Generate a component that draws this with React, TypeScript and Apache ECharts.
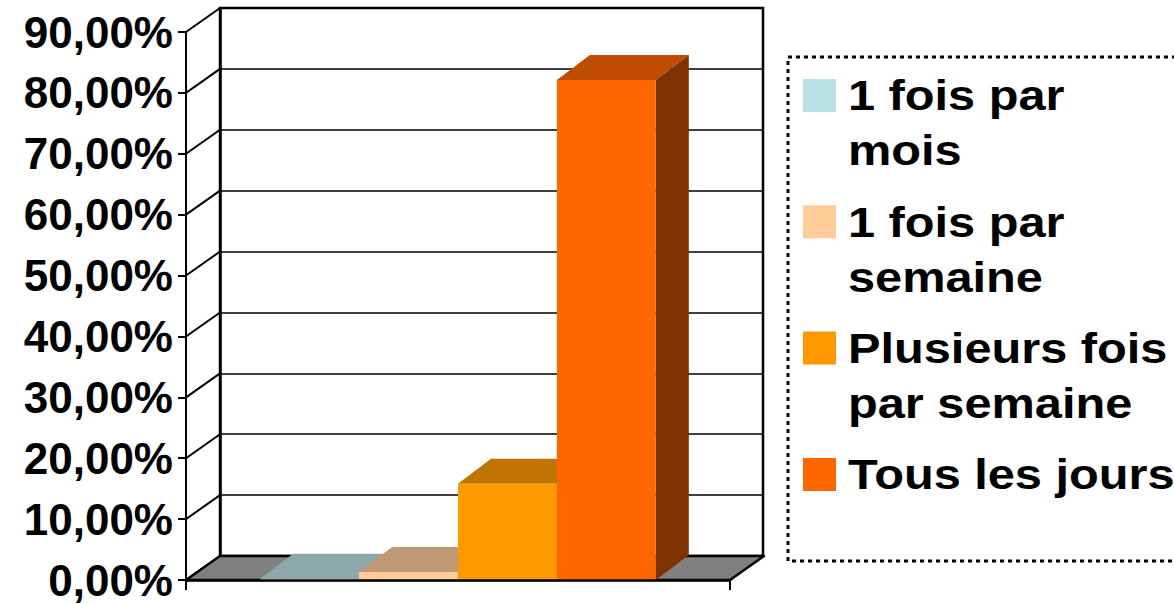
import React, { useEffect, useRef } from "react";
import * as echarts from "echarts";

// ---- data ----
const categories = ["1 fois par mois", "1 fois par semaine", "Plusieurs fois par semaine", "Tous les jours"];
const legendLines = [["1 fois par", "mois"], ["1 fois par", "semaine"], ["Plusieurs fois", "par semaine"], ["Tous les jours"]];
const values = [0.002, 0.013, 0.158, 0.821];
const yTicks = [0, 0.1, 0.2, 0.3, 0.4, 0.5, 0.6, 0.7, 0.8, 0.9];
const frontColors = ["#BBE0E3", "#FFCC99", "#FF9900", "#FF6600"];
const topColors = ["#8DA8AA", "#BF9973", "#BF7300", "#BF4C00"];
const sideColors = ["#5E7072", "#80664D", "#804D00", "#803300"];

// ---- layout/style constants ----
const FONT = "'Liberation Sans', Arial, Helvetica, sans-serif";
const X_MAX = 5.5;
const GAP = 0.75;
const WDX = 34, WDY = -24; // wall depth offset
const BDX = 33, BDY = -25; // bar depth offset

const fmt = (v: number) => (v * 100).toFixed(2).replace(".", ",") + "%";

export default function App() {
  const ref = useRef<HTMLDivElement>(null);
  useEffect(() => {
    if (!ref.current) return;
    const chart = echarts.init(ref.current, undefined, { renderer: "svg" });

    const wallSeries: any = {
      type: "custom",
      xAxisIndex: 0,
      yAxisIndex: 0,
      silent: true,
      z: 3,
      data: yTicks.map((v) => [0, v]),
      renderItem: (params: any, api: any) => {
        const p = api.coord([0, api.value(1)]);
        return {
          type: "line",
          shape: { x1: p[0], y1: p[1], x2: p[0] + WDX, y2: p[1] + WDY },
          style: { stroke: "#000", lineWidth: 2 },
        };
      },
    };

    const floorSeries: any = {
      type: "custom",
      xAxisIndex: 0,
      yAxisIndex: 0,
      silent: true,
      z: 3,
      data: [[0, 0]],
      renderItem: (params: any, api: any) => {
        const a = api.coord([0, 0]);
        const b = api.coord([X_MAX, 0]);
        return {
          type: "polygon",
          shape: {
            points: [
              [a[0], a[1]],
              [b[0], b[1]],
              [b[0] + WDX, b[1] + WDY],
              [a[0] + WDX, a[1] + WDY],
            ],
          },
          style: { fill: "#808080", stroke: "#000", lineWidth: 2.5, lineJoin: "round" },
        };
      },
    };

    const barSeries: any[] = categories.map((name, idx) => ({
      type: "custom",
      name,
      xAxisIndex: 0,
      yAxisIndex: 0,
      z: 4,
      data: [[idx, values[idx]]],
      renderItem: (params: any, api: any) => {
        const i = api.value(0);
        const v = api.value(1);
        const p0 = api.coord([i + GAP, 0]);
        const p1 = api.coord([i + GAP + 1, v]);
        const xL = p0[0], xR = p1[0], yB = p0[1], yT = p1[1];
        return {
          type: "group",
          children: [
            {
              type: "polygon",
              shape: { points: [[xL, yT], [xR, yT], [xR + BDX, yT + BDY], [xL + BDX, yT + BDY]] },
              style: { fill: topColors[idx] },
            },
            {
              type: "polygon",
              shape: { points: [[xR, yT], [xR + BDX, yT + BDY], [xR + BDX, yB + BDY], [xR, yB]] },
              style: { fill: sideColors[idx] },
            },
            {
              type: "rect",
              shape: { x: xL, y: yT, width: xR - xL, height: Math.max(yB - yT, 0.5) },
              style: { fill: frontColors[idx] },
            },
          ],
        };
      },
    }));

    const legendGraphics: any[] = [
      {
        type: "rect",
        shape: { x: 788, y: 57, width: 420, height: 504 },
        style: { fill: "none", stroke: "#000", lineWidth: 3, lineDash: [4, 4] },
        silent: true,
      },
    ];
    legendLines.forEach((lines, i) => {
      const top = 79 + i * 126.3;
      legendGraphics.push({
        type: "rect",
        shape: { x: 803, y: top, width: 33, height: 33 },
        style: { fill: frontColors[i] },
      });
      lines.forEach((ln, j) => {
        legendGraphics.push({
          type: "text",
          x: 848,
          y: top + 17 + j * 55,
          scaleX: 1.16,
          style: {
            text: ln,
            fill: "#000",
            font: `bold 42px ${FONT}`,
            verticalAlign: "middle",
            align: "left",
          },
        });
      });
    });

    chart.setOption({
      animation: false,
      backgroundColor: "#fff",
      grid: [
        { left: 186, top: 32, width: 544, height: 548, containLabel: false },
        {
          left: 220,
          top: 8,
          width: 543,
          height: 548,
          show: true,
          borderColor: "#000",
          borderWidth: 2.5,
          backgroundColor: "transparent",
        },
      ],
      xAxis: [
        {
          gridIndex: 0,
          type: "value",
          min: 0,
          max: X_MAX,
          interval: X_MAX,
          z: 10,
          axisLine: { show: true, lineStyle: { color: "#000", width: 2.5 } },
          axisTick: { show: true, length: 10, lineStyle: { color: "#000", width: 2 } },
          axisLabel: { show: false },
          splitLine: { show: false },
        },
        { gridIndex: 1, type: "value", min: 0, max: X_MAX, show: false },
      ],
      yAxis: [
        {
          gridIndex: 0,
          type: "value",
          min: 0,
          max: 0.9,
          interval: 0.1,
          z: 10,
          axisLine: { show: true, lineStyle: { color: "#000", width: 2 } },
          axisTick: { show: true, length: 8, lineStyle: { color: "#000", width: 2 } },
          axisLabel: {
            formatter: (v: number) => fmt(v),
            color: "#000",
            fontSize: 44,
            fontWeight: "bold",
            fontFamily: FONT,
            margin: 13,
          },
          splitLine: { show: false },
        },
        {
          gridIndex: 1,
          type: "value",
          min: 0,
          max: 0.9,
          interval: 0.1,
          axisLine: { show: true, lineStyle: { color: "#000", width: 2.5 } },
          axisTick: { show: false },
          axisLabel: { show: false },
          splitLine: { show: true, lineStyle: { color: "#000", width: 1.5 } },
        },
      ],
      graphic: legendGraphics,
      series: [wallSeries, floorSeries, ...barSeries],
    });

    return () => chart.dispose();
  }, []);

  return (
    <div
      ref={ref}
      style={{ position: "fixed", left: 0, top: 0, width: 1174, height: 604, background: "#fff" }}
    />
  );
}
